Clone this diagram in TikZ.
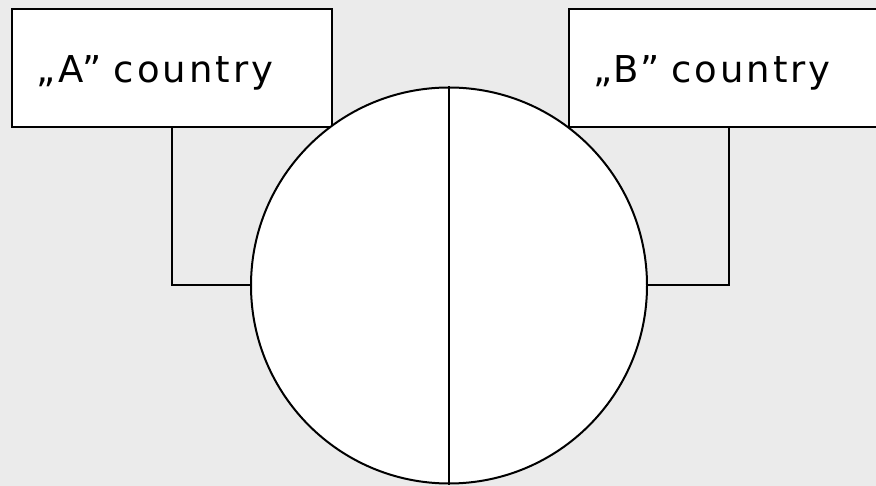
\documentclass[tikz,border=0pt]{standalone}
\usepackage{fontspec}
\setmainfont{DejaVu Sans}
\definecolor{pagegray}{HTML}{EBEBEB}

\begin{document}
\begin{tikzpicture}[x=1pt, y=-1pt, line width=2pt,
  countrybox/.style={draw, fill=white, anchor=north west, minimum height=118pt,
    text width=272pt, inner xsep=24pt, inner ysep=0pt, align=left,
    text height=30pt, text depth=0pt,
    font=\fontsize{37}{40}\selectfont\addfontfeature{LetterSpace=8}},
  halfdisc/.style={draw, circle, fill=white, minimum size=396pt, inner sep=0pt}]
  \fill[pagegray] (0,0) rectangle (876,486);
  \clip (0,0) rectangle (876,486);
  \node[countrybox] (boxA) at (11,8) {„A” country};
  \node[countrybox] (boxB) at (568,8) {„B” country};
  \node[halfdisc] (disc) at (449,285.5) {};
  \draw (disc.north) -- (disc.south);
  \draw (boxA.south) |- (disc.west);
  \draw (boxB.south) |- (disc.east);
\end{tikzpicture}
\end{document}
